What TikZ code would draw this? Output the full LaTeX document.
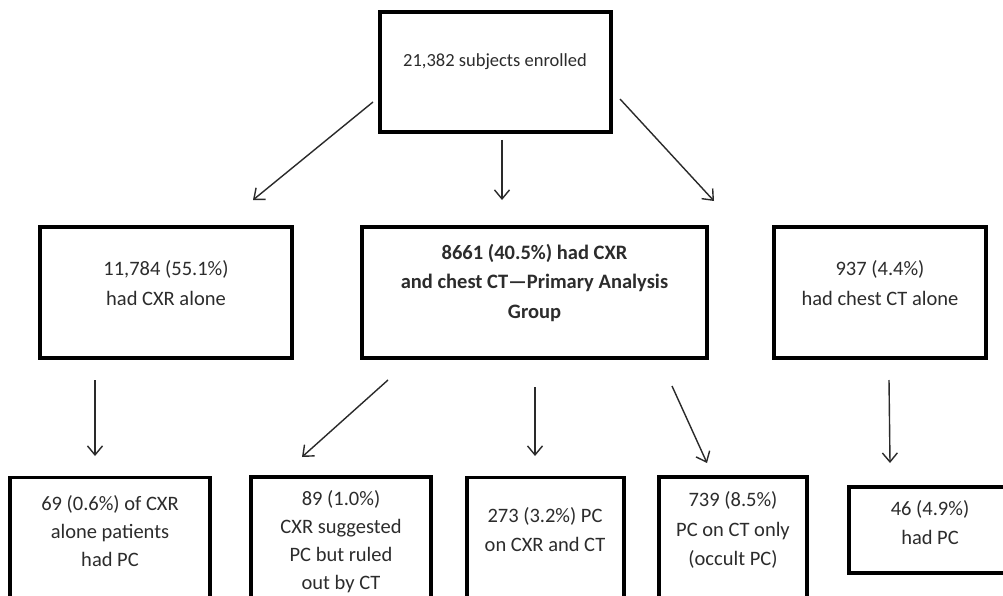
\documentclass[tikz,border=0pt]{standalone}
\usepackage{fontspec}
\setmainfont{Carlito}
\usetikzlibrary{arrows.meta}
\definecolor{txtgray}{HTML}{2C2C2C}
\definecolor{arrgray}{HTML}{2A2A2A}
\begin{document}
\begin{tikzpicture}[x=1pt,y=-1pt,
  box/.style={draw=black,line width=3.2pt,inner sep=0pt,fill=none},
  txt/.style={align=center,text=txtgray,inner sep=0pt,font=\fontsize{20.5}{29.5}\selectfont},
  txtb/.style={txt,font=\fontsize{20.5}{28}\selectfont},
  arr/.style={draw=arrgray,line width=1.4pt,-{Straight Barb[length=9pt,width=15pt,line width=1.4pt]}}]
\useasboundingbox (0,0) rectangle (1003,596);
\clip (0,0) rectangle (1003,596);
\fill[white] (0,0) rectangle (1003,596);
% boxes
\node[box,minimum width=231pt,minimum height=120pt] (top) at (495.5,72) {};
\node[box,minimum width=252pt,minimum height=131pt] (b1) at (166,292.5) {};
\node[box,minimum width=345pt,minimum height=131pt] (b2) at (534.5,292.5) {};
\node[box,minimum width=212pt,minimum height=131pt] (b3) at (880,292.5) {};
\node[box,minimum width=200pt,minimum height=143pt] (c1) at (110,549) {};
\node[box,minimum width=180pt,minimum height=143pt] (c2) at (341,548.5) {};
\node[box,minimum width=157pt,minimum height=143pt] (c3) at (545.5,549) {};
\node[box,minimum width=148pt,minimum height=143pt] (c4) at (733,548.5) {};
\node[box,minimum width=164pt,minimum height=86pt] (c5) at (931,530) {};
% texts
\node[txt,font=\fontsize{18.5}{28}\selectfont] (ttop) at (495,62) {21,382 subjects enrolled};
\node[txt] (tb1) at (166,283) {11,784 (55.1\%)\\had CXR alone};
\node[txt,font=\bfseries\fontsize{20.5}{29.5}\selectfont] (tb2) at (534.5,283) {8661 (40.5\%) had CXR\\and chest CT—Primary Analysis\\Group};
\node[txt] (tb3) at (880,283) {937 (4.4\%)\\had chest CT alone};
\node[txtb] (tc1) at (110,531) {69 (0.6\%) of CXR\\alone patients\\had PC};
\node[txtb] (tc2) at (341,541.5) {89 (1.0\%)\\CXR suggested\\PC but ruled\\out by CT};
\node[txtb,font=\fontsize{20.5}{29}\selectfont] (tc3) at (545,530) {273 (3.2\%) PC\\on CXR and CT};
\node[txtb,font=\fontsize{20.5}{29.5}\selectfont] (tc4) at (733,530) {739 (8.5\%)\\PC on CT only\\(occult PC)};
\node[txtb,font=\fontsize{20.5}{29}\selectfont] (tc5) at (930,523) {46 (4.9\%)\\had PC};
% arrow end points
\coordinate (a1s) at (373,102); \coordinate (a1e) at (253,200);
\coordinate (a2s) at (502,140); \coordinate (a2e) at (502,200);
\coordinate (a3s) at (620,99);  \coordinate (a3e) at (714,201);
\coordinate (a4s) at (95,380);  \coordinate (a4e) at (95,456);
\coordinate (a5s) at (388,380); \coordinate (a5e) at (302,457);
\coordinate (a6s) at (535,387); \coordinate (a6e) at (535,456);
\coordinate (a7s) at (672,386); \coordinate (a7e) at (707,463);
\coordinate (a8s) at (889,380); \coordinate (a8e) at (890,463);
\draw[arr] (a1s) -- (a1e);
\draw[arr] (a2s) -- (a2e);
\draw[arr] (a3s) -- (a3e);
\draw[arr] (a4s) -- (a4e);
\draw[arr] (a5s) -- (a5e);
\draw[arr] (a6s) -- (a6e);
\draw[arr] (a7s) -- (a7e);
\draw[arr] (a8s) -- (a8e);
\end{tikzpicture}
\end{document}
